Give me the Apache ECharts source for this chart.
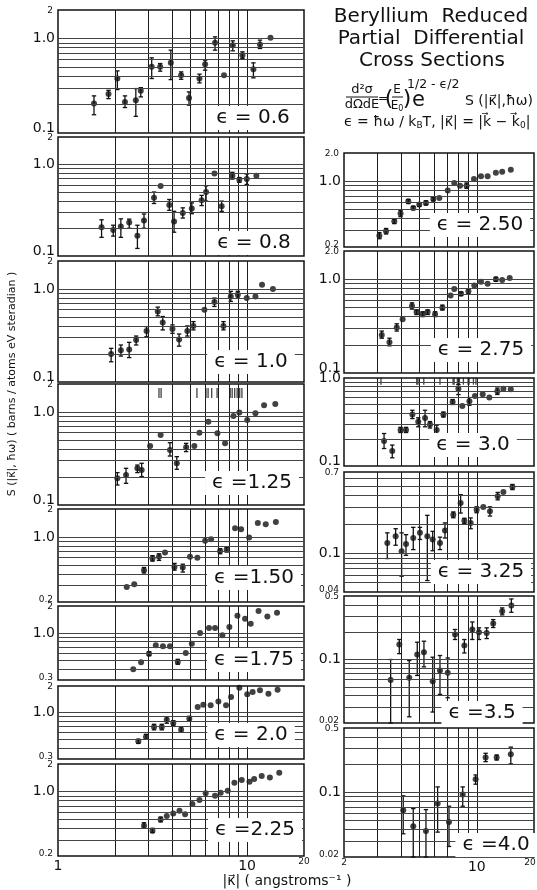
<!DOCTYPE html>
<html>
<head>
<meta charset="utf-8">
<script src="https://cdn.jsdelivr.net/npm/echarts@6/dist/echarts.min.js"></script>
<style>
html, body { margin: 0; padding: 0; background: #fff; }
#chart { width: 537px; height: 890px; }
</style>
</head>
<body>
<div id="chart"></div>
<script>
// each point: [|k|, S, errLow, errHigh]  (error bars only where drawn)
var eps06 = [[1.55,0.205,0.156,0.247],[1.85,0.259,0.231,0.283],[2.06,0.377,0.288,0.454],[2.26,0.213,0.186,0.247],
  [2.58,0.222,0.150,0.295],[2.74,0.279,0.241,0.302],[3.13,0.501,0.377,0.624],[3.47,0.501,0.451,0.543],
  [3.95,0.552,0.367,0.752],[4.48,0.409,0.370,0.443],[4.93,0.235,0.197,0.272],[5.60,0.377,0.339,0.419],
  [6.0,0.535,0.462,0.589],[6.77,0.90,0.752,1.04],[7.55,0.409],[8.40,0.85,0.740,0.944],
  [9.45,0.666,0.614,0.722],[10.8,0.473,0.383,0.552],[11.7,0.864,0.783,0.960],[13.3,1.02]];
var eps08 = [[1.70,0.206,0.160,0.249],[1.96,0.193,0.165,0.217],[2.15,0.210,0.160,0.255],[2.38,0.233,0.201,0.253],
  [2.63,0.166,0.121,0.217],[2.85,0.245,0.201,0.288],[3.22,0.434,0.375,0.501],[3.49,0.584],
  [3.88,0.360,0.316,0.415],[4.11,0.239,0.182,0.308],[4.57,0.295,0.260,0.336],[5.10,0.330,0.290,0.381],
  [5.75,0.408,0.356,0.46],[6.07,0.501,0.398,0.584],[6.72,0.80],[7.34,0.350,0.308,0.398],
  [8.36,0.755,0.693,0.822],[9.1,0.681,0.64,0.72],[9.96,0.693,0.605,0.788],[11.2,0.755]];
var eps10 = [[1.91,0.200,0.165,0.230],[2.15,0.220,0.190,0.250],[2.38,0.224,0.183,0.267],[2.59,0.283,0.250,0.312],
  [2.94,0.354,0.307,0.394],[3.37,0.573,0.514,0.638],[3.58,0.436,0.363,0.506],[4.03,0.372,0.334,0.411],
  [4.37,0.287,0.243,0.328],[4.83,0.354,0.312,0.401],[5.20,0.401,0.363,0.446],[5.95,0.597],
  [6.72,0.723,0.649,0.799],[7.50,0.401,0.363,0.446],[8.20,0.833,0.735,0.944],[8.93,0.868,0.799,0.944],
  [9.96,0.80],[11.07,0.833],[12.0,1.11],[13.7,1.0]];
var eps125 = [[2.06,0.194,0.164,0.223],[2.29,0.210,0.171,0.248],[2.63,0.248,0.223,0.269],[2.77,0.238,0.202,0.281],
  [3.07,0.431],[3.49,0.566],[3.91,0.390,0.336,0.468],[4.25,0.281,0.242,0.331],
  [4.76,0.417,0.375,0.460],[5.26,0.431],[5.60,0.600],[6.24,0.787],
  [6.97,0.590],[7.65,0.461],[8.47,0.906],[9.1,0.99],
  [10.02,0.82],[11.07,0.967],[12.3,1.18],[14.1,1.22]];
var eps150 = [[2.31,0.290],[2.53,0.310],[2.85,0.439,0.41,0.47],[3.16,0.587,0.55,0.63],
  [3.42,0.612,0.56,0.66],[3.68,0.682],[4.13,0.477,0.44,0.52],[4.57,0.469,0.42,0.51],
  [4.99,0.612],[5.46,0.60],[6.0,0.913],[6.45,0.943],
  [7.20,0.706,0.66,0.75],[7.80,0.735,0.69,0.78],[8.64,1.24],[9.30,1.21],
  [10.25,0.99],[11.4,1.41],[12.55,1.37],[14.2,1.45]];
var eps175 = [[2.50,0.395],[2.75,0.472],[3.03,0.589,0.56,0.62],[3.29,0.730],
  [3.59,0.711],[3.91,0.711],[4.30,0.476,0.45,0.51],[4.74,0.60],
  [5.10,0.761],[5.64,1.0],[6.29,1.137],[6.77,1.137],
  [7.40,0.942],[8.06,1.166],[8.89,1.56],[9.76,1.44],
  [10.45,1.27],[11.5,1.76],[12.8,1.53],[14.4,1.68]];
var eps20 = [[2.66,0.475,0.45,0.50],[2.92,0.532,0.50,0.57],[3.22,0.689,0.64,0.74],[3.54,0.689,0.64,0.74],
  [3.76,0.834,0.76,0.90],[4.07,0.765,0.72,0.81],[4.48,0.643,0.60,0.69],[4.95,0.856,0.80,0.91],
  [5.48,1.16],[5.87,1.23],[6.42,1.21],[7.05,1.34],
  [7.74,1.21],[8.23,1.50],[9.1,1.91],[10.02,1.61],
  [10.7,1.71],[11.7,1.79],[12.97,1.64],[14.5,1.82]];
var eps225 = [[2.85,0.427,0.40,0.46],[3.16,0.377,0.36,0.40],[3.49,0.50,0.47,0.53],[3.76,0.544],
  [4.07,0.581],[4.39,0.622],[4.70,0.567],[5.14,0.734],
  [5.60,0.812],[6.04,0.959],[6.77,0.905],[7.25,0.975],
  [7.90,1.025],[8.57,1.25],[9.37,1.34],[10.3,1.28],
  [10.9,1.37],[11.95,1.48],[13.2,1.43],[14.8,1.61]];
var eps250 = [[3.07,0.264,0.245,0.285],[3.33,0.294,0.275,0.315],[3.68,0.375,0.355,0.395],[3.97,0.453,0.42,0.49],
  [4.36,0.612,0.58,0.64],[4.63,0.520,0.50,0.54],[4.98,0.565,0.54,0.59],[5.40,0.588,0.56,0.62],
  [5.90,0.649,0.62,0.68],[6.35,0.665],[7.03,0.796],[7.61,0.960],
  [8.16,0.899],[8.84,0.899,0.84,0.96],[9.66,1.059],[10.52,1.13],
  [11.4,1.13],[12.6,1.23],[13.6,1.26],[15.1,1.33]];
var eps275 = [[3.16,0.255,0.235,0.28],[3.47,0.213,0.195,0.235],[3.79,0.306,0.28,0.335],[4.07,0.374],
  [4.56,0.517,0.48,0.56],[4.82,0.447,0.42,0.47],[5.19,0.423,0.40,0.45],[5.51,0.447,0.42,0.47],
  [6.03,0.423,0.40,0.45],[6.59,0.496,0.47,0.53],[7.28,0.669],[7.61,0.785],
  [8.26,0.702,0.67,0.73],[9.03,0.743,0.70,0.79],[9.70,0.858],[10.52,0.938],
  [11.4,0.893],[12.6,1.0,0.95,1.05],[13.6,0.984],[14.9,1.03]];
var eps30 = [[3.25,0.192,0.158,0.234],[3.59,0.148,0.124,0.173],[3.97,0.256,0.24,0.275],[4.24,0.256,0.24,0.275],
  [4.58,0.385,0.346,0.43],[4.92,0.318,0.279,0.353],[5.34,0.352,0.279,0.43],[5.67,0.296,0.27,0.32],
  [6.15,0.256,0.228,0.291],[6.67,0.385,0.36,0.41],[7.46,0.535,0.50,0.57],[8.0,0.757,0.648,0.84],
  [8.39,0.482],[9.14,0.545,0.49,0.60],[9.78,0.626],[10.74,0.653],
  [11.64,0.599],[12.83,0.707,0.65,0.77],[13.8,0.757],[15.1,0.744]];
var eps325 = [[3.38,0.129,0.0888,0.164],[3.74,0.151,0.122,0.181],[4.02,0.106,0.0583,0.164],[4.24,0.126,0.096,0.157],
  [4.63,0.145,0.110,0.187],[5.02,0.164,0.140,0.187],[5.49,0.151,0.0526,0.249],[5.86,0.140,0.107,0.170],
  [6.40,0.129,0.110,0.148],[6.80,0.173,0.145,0.208],[7.52,0.253,0.235,0.27],[8.22,0.334,0.263,0.408],
  [8.60,0.219,0.205,0.232],[9.28,0.208,0.181,0.234],[9.98,0.285,0.265,0.305],[10.82,0.304],
  [11.73,0.274,0.245,0.305],[12.88,0.392,0.36,0.43],[13.8,0.434],[15.4,0.489,0.46,0.52]];
var eps35 = [[3.52,0.0593,0.02,0.1],[3.91,0.146,0.116,0.166],[4.41,0.0629,0.0234,0.0975],[4.86,0.1135,0.0667,0.155],
  [5.27,0.120,0.083,0.159],[5.86,0.0578,0.0264,0.106],[6.40,0.0757,0.0413,0.1106],[7.03,0.0714,0.0379,0.104],
  [7.68,0.188,0.166,0.214],[8.60,0.1426,0.118,0.166],[9.47,0.214,0.166,0.259],[10.27,0.20,0.166,0.223],
  [11.27,0.196,0.17,0.223],[12.2,0.249,0.225,0.275],[13.6,0.34,0.31,0.37],[15.2,0.392,0.331,0.464]];
var eps40 = [[4.10,0.0641,0.0357,0.092],[4.63,0.043,0.02,0.0669],[5.40,0.0382,0.02,0.0653],[6.22,0.0759,0.0372,0.115],
  [7.14,0.0479,0.026,0.071],[8.43,0.0951,0.071,0.115],[9.86,0.139,0.123,0.155],[11.13,0.239,0.216,0.266],
  [12.72,0.239,0.225,0.255],[15.1,0.26,0.204,0.31]];

// short vertical marks along the top of two panels
var marks125 = [3.42,3.51,5.43,6.06,6.22,6.5,6.94,8.14,8.34,8.6,8.86,9.14,9.39];
var marks30 = [3.13,4.83,4.9,5.26,6.4,7.5,7.6,7.9,8.1,8.5,9.0,9.1,9.6,9.9];

var panelData = [eps06, eps08, eps10, eps125, eps150, eps175, eps20, eps225,
  eps250, eps275, eps30, eps325, eps35, eps40];
var panelNames = ['ϵ = 0.6','ϵ = 0.8','ϵ = 1.0','ϵ =1.25','ϵ =1.50','ϵ =1.75','ϵ = 2.0','ϵ =2.25',
  'ϵ = 2.50','ϵ = 2.75','ϵ = 3.0','ϵ = 3.25','ϵ =3.5','ϵ =4.0'];
var yMinList = [0.1,0.1,0.1,0.1,0.2,0.3,0.3,0.2, 0.2,0.1,0.1,0.04,0.02,0.02];
var yMaxList = [2,2,2,2,2,2,2,2, 2,2,1,0.7,0.5,0.5];
var yTickLabels = [
  [[2,'2'],[1,'1.0'],[0.1,'0.1']], [[2,'2'],[1,'1.0'],[0.1,'0.1']],
  [[2,'2'],[1,'1.0'],[0.1,'0.1']], [[2,'2'],[1,'1.0'],[0.1,'0.1']],
  [[2,'2'],[1,'1.0'],[0.2,'0.2']], [[2,'2'],[1,'1.0'],[0.3,'0.3']],
  [[2,'2'],[1,'1.0'],[0.3,'0.3']], [[2,'2'],[1,'1.0'],[0.2,'0.2']],
  [[2,'2.0'],[1,'1.0'],[0.2,'0.2']], [[2,'2.0'],[1,'1.0'],[0.1,'0.1']],
  [[1,'1.0'],[0.1,'0.1']], [[0.7,'0.7'],[0.1,'0.1'],[0.04,'0.04']],
  [[0.5,'0.5'],[0.1,'0.1'],[0.02,'0.02']], [[0.5,'0.5'],[0.1,'0.1'],[0.02,'0.02']]
];
var xTicksLeft = [[1,'1'],[10,'10'],[20,'20']];
var xTicksRight = [[2,'2'],[10,'10'],[20,'20']];
var xGridValues = [2,3,4,5,6,7,8,9,10];
var yGridValues = [0.02,0.03,0.04,0.05,0.06,0.07,0.08,0.09,0.1,0.2,0.3,0.4,0.5,0.6,0.7,0.8,0.9,1.0];

// layout (pixels)
var leftTops = [10,137,261,384,509,606,686,764];
var leftBottoms = [133,256,382,505,602,680,759,856];
var rightTops = [153,251,378,472,596,728];
var rightBottoms = [247,373,466,592,723,857];
var labelPos = [[253,118],[254,243],[251,362],[252,483],[254,578],[254,660],[251,735],[255,830],
  [480,225],[481,350],[473,445],[481,572],[482,713],[496,845]];

var FONT = '"DejaVu Sans", "Liberation Sans", sans-serif';
var INK = '#111';

function renderErr(params, api) {
    var x = api.value(0);
    var lo = api.coord([x, api.value(1)]);
    var hi = api.coord([x, api.value(2)]);
    var c = 2.2;
    var st = { stroke: INK, lineWidth: 1.3 };
    return {
        type: 'group',
        children: [
            { type: 'line', shape: { x1: lo[0], y1: lo[1], x2: hi[0], y2: hi[1] }, style: st },
            { type: 'line', shape: { x1: lo[0] - c, y1: lo[1], x2: lo[0] + c, y2: lo[1] }, style: st },
            { type: 'line', shape: { x1: hi[0] - c, y1: hi[1], x2: hi[0] + c, y2: hi[1] }, style: st }
        ]
    };
}

var chart = echarts.init(document.getElementById('chart'));
var grids = [], xAxes = [], yAxes = [], series = [];

panelData.forEach(function (pts, i) {
    var isLeft = i < 8;
    var j = isLeft ? i : i - 8;
    var top = isLeft ? leftTops[j] : rightTops[j];
    var bottom = isLeft ? leftBottoms[j] : rightBottoms[j];
    var xMin = isLeft ? 1 : 2;
    var yMin = yMinList[i], yMax = yMaxList[i];

    grids.push({
        left: isLeft ? 58 : 344, width: isLeft ? 246 : 190,
        top: top, height: bottom - top,
        show: true, borderColor: INK, borderWidth: 1.5, backgroundColor: 'transparent'
    });
    var axisBase = {
        type: 'log', logBase: 10,
        axisLine: { show: false }, axisTick: { show: false },
        axisLabel: { show: false }, splitLine: { show: false }
    };
    xAxes.push(Object.assign({ gridIndex: i, min: xMin, max: 20 }, axisBase));
    yAxes.push(Object.assign({ gridIndex: i, min: yMin, max: yMax }, axisBase));

    // graph-paper lines
    var lines = [];
    xGridValues.forEach(function (v) {
        if (v > xMin && v < 20) lines.push({ xAxis: v, lineStyle: { color: '#1c1c1c' } });
    });
    yGridValues.forEach(function (v) {
        if (v > yMin * 1.001 && v < yMax * 0.999) lines.push({ yAxis: v });
    });
    series.push({
        type: 'scatter', xAxisIndex: i, yAxisIndex: i, z: 1, silent: true,
        data: [],
        markLine: {
            silent: true, symbol: ['none', 'none'], animation: false,
            label: { show: false },
            lineStyle: { color: '#444', width: 1, type: 'solid' },
            emphasis: { disabled: true },
            data: lines
        }
    });

    series.push({
        type: 'custom', xAxisIndex: i, yAxisIndex: i, z: 3, silent: true,
        renderItem: renderErr,
        encode: { x: 0, y: [1, 2] },
        data: pts.filter(function (d) { return d.length > 2; })
                 .map(function (d) { return [d[0], d[2], d[3]]; })
    });
    series.push({
        type: 'scatter', xAxisIndex: i, yAxisIndex: i, z: 4, silent: true,
        symbolSize: 6, itemStyle: { color: INK },
        data: pts.map(function (d) { return [d[0], d[1]]; })
    });
});

series.push({
    type: 'scatter', xAxisIndex: 3, yAxisIndex: 3, z: 4, silent: true,
    symbol: 'rect', symbolSize: [1.3, 10], itemStyle: { color: INK },
    data: marks125.map(function (v) { return [v, 1.6]; })
});
series.push({
    type: 'scatter', xAxisIndex: 10, yAxisIndex: 10, z: 4, silent: true,
    symbol: 'rect', symbolSize: [1.3, 7], itemStyle: { color: INK },
    data: marks30.map(function (v) { return [v, 0.92]; })
});

chart.setOption({
    animation: false,
    grid: grids, xAxis: xAxes, yAxis: yAxes, series: series
});

// texts: tick labels, panel labels, titles
var g = [];
function txt(x, y, s, size, align, va, extra) {
    var el = {
        type: 'text', z: 50,
        style: Object.assign({
            x: x, y: y, text: s, fill: INK,
            font: size + 'px ' + FONT, align: align || 'center', verticalAlign: va || 'middle'
        }, extra || {})
    };
    g.push(el);
    return el;
}

panelData.forEach(function (pts, i) {
    var isLeft = i < 8;
    var xMin = isLeft ? 1 : 2;
    yTickLabels[i].forEach(function (t) {
        var p = chart.convertToPixel({ gridIndex: i }, [xMin, t[0]]);
        var big = (t[0] === 1 || t[0] === 0.1);
        var va = 'middle', y = p[1];
        if (t[0] === yMaxList[i] && !big) { y = p[1] + 1; }
        if (t[0] === yMinList[i]) { va = 'bottom'; y = p[1] + 2; }
        txt(p[0] - (big ? 3 : 5), y, t[1], big ? 14 : 9, 'right', va);
    });
    txt(labelPos[i][0], labelPos[i][1], panelNames[i], 20, 'center', 'middle',
        { backgroundColor: '#fff', padding: [2, 7] });
});

[[7, xTicksLeft, 1], [13, xTicksRight, 2]].forEach(function (a) {
    a[1].forEach(function (t) {
        var p = chart.convertToPixel({ gridIndex: a[0] }, [t[0], a[2] === 1 ? 0.2 : 0.02]);
        var big = (t[0] === 1 || t[0] === 10);
        var x = (a[2] === 2 && t[0] === 20) ? p[0] - 4 : p[0];
        txt(x, p[1] + (big ? 3 : 1), t[1], big ? 14 : 9, 'center', 'top');
    });
});

txt(287, 881, '|κ⃗| ( angstroms⁻¹ )', 14);
g.push({
    type: 'text', z: 50, x: 12, y: 384, rotation: Math.PI / 2,
    style: { x: 0, y: 0, text: 'S (|κ⃗|, ħω) ( barns / atoms eV steradian )', fill: INK,
        font: '11px ' + FONT, align: 'center', verticalAlign: 'middle' }
});

txt(431, 17, 'Beryllium  Reduced', 20);
txt(431, 39, 'Partial  Differential', 20);
txt(432, 61, 'Cross Sections', 20);

// d2sigma / dOmega dE = (E/E0)^(1/2) e^(-eps/2) S(|k|, hw)
txt(362, 90, 'd²σ', 13);
g.push({ type: 'line', z: 50, shape: { x1: 346, y1: 97, x2: 378, y2: 97 }, style: { stroke: INK, lineWidth: 1 } });
txt(362, 105, 'dΩdE', 13);
txt(383, 99, '=', 12);
txt(389, 99, '(', 22);
txt(397, 90, 'E', 12);
g.push({ type: 'line', z: 50, shape: { x1: 392, y1: 97, x2: 403, y2: 97 }, style: { stroke: INK, lineWidth: 1 } });
g.push({
    type: 'text', z: 50,
    style: { x: 397, y: 106, align: 'center', verticalAlign: 'middle', fill: INK,
        text: '{n|E}{s|0}',
        rich: { n: { font: '12px ' + FONT, fill: INK }, s: { font: '8px ' + FONT, fill: INK, padding: [5, 0, 0, 0] } } }
});
txt(407, 99, ')', 22);
txt(407, 85, '1/2 - ϵ/2', 12.5, 'left');
txt(412, 101, 'e', 21, 'left');
txt(465, 101, 'S (|κ⃗|,ħω)', 14, 'left');
g.push({
    type: 'text', z: 50,
    style: {
        x: 344, y: 122, align: 'left', verticalAlign: 'middle', fill: INK,
        text: '{n|ϵ = ħω / k}{s|B}{n|T, |κ⃗| = |k⃗ − k⃗}{s|0}{n||}',
        rich: {
            n: { font: '14px ' + FONT, fill: INK },
            s: { font: '9px ' + FONT, fill: INK, padding: [7, 0, 0, 0] }
        }
    }
});

chart.setOption({ graphic: { elements: g } });
</script>
</body>
</html>
